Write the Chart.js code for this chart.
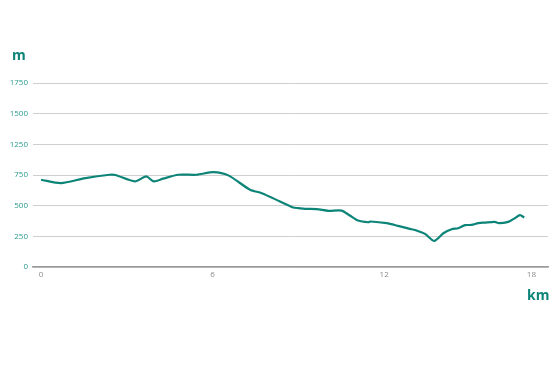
<!DOCTYPE html>
<html>
<head>
<meta charset="utf-8">
<script src="https://cdn.jsdelivr.net/npm/chart.js@4"></script>
<style>
  body { margin: 0; background: #fff; }
  #wrap { position: relative; width: 554px; height: 369px; }
  .eje { position: absolute; font-family: "Open Sans", sans-serif; font-weight: 700; font-size: 14px; color: #0c8478; }
  #tituloY { left: 12px; top: 45px; }
  #tituloX { left: 527px; top: 285px; }
</style>
</head>
<body>
<div id="wrap">
  <canvas id="perfil" width="554" height="369"></canvas>
  <div class="eje" id="tituloY">m</div>
  <div class="eje" id="tituloX">km</div>
</div>
<script>
// perfil de elevacion de la ruta
const distanciaKm = [0, 0.7, 1.5, 2.4, 2.6, 3.28, 3.68, 3.94, 4.27, 4.8, 5.44, 6.03, 6.55, 7.31, 7.72, 8.36, 8.82, 9.0, 9.23, 9.64, 10.05, 10.51, 10.8, 11.09, 11.44, 11.53, 12.09, 12.49, 12.9, 13.08, 13.43, 13.75, 14.07, 14.36, 14.59, 14.83, 15.06, 15.29, 15.52, 15.87, 16.01, 16.34, 16.57, 16.75, 16.9]
const elevacionM = [711, 684, 722, 752, 750, 698, 738, 698, 720, 752, 752, 774, 747, 630, 602, 534, 485, 480, 474, 472, 458, 460, 420, 379, 365, 371, 357, 335, 311, 302, 270, 213, 275, 308, 316, 341, 343, 357, 362, 368, 357, 368, 398, 423, 403]

// etiquetas de los ejes tal como salen en el grafico
const etiquetasY = ['0', '250', '500', '750', '1250', '1500', '1750']
const valoresX = [0, 6, 12, 17.15]
const etiquetasX = ['0', '6', '12', '18']

const verde = '#0c8478'

const puntos = distanciaKm.map((d, i) => ({ x: d, y: elevacionM[i] }))

const config = {
    type: 'line',
    data: {
        datasets: [{
            data: puntos,
            borderColor: verde,
            borderWidth: 2.2,
            pointRadius: 0,
            tension: 0.25,
            fill: false
        }]
    },
    options: {
        responsive: false,
        animation: false,
        layout: {
            padding: { top: 83, right: 6, bottom: 90, left: 0 }
        },
        plugins: {
            legend: { display: false },
            tooltip: { enabled: false }
        },
        scales: {
            x: {
                type: 'linear',
                min: -0.28,
                max: 17.73,
                afterBuildTicks: (scale) => {
                    scale.ticks = valoresX.map(v => ({ value: v }))
                },
                afterFit: (scale) => { scale.height = 12 },
                grid: { display: false, drawTicks: false },
                border: { display: true, color: '#9a9a9a', width: 1.5 },
                ticks: {
                    autoSkip: false,
                    maxRotation: 0,
                    padding: 3,
                    color: '#8a8a8a',
                    font: { family: 'Open Sans', size: 8 },
                    callback: (value, index) => etiquetasX[index]
                }
            },
            y: {
                min: 0,
                max: 1500,
                afterFit: (scale) => { scale.width = 33 },
                grid: { color: '#cfcfcf', lineWidth: 1, drawTicks: false },
                border: { display: false },
                ticks: {
                    stepSize: 250,
                    padding: 5,
                    color: '#2a9a8e',
                    font: { family: 'Open Sans', size: 8 },
                    callback: (value, index) => etiquetasY[index]
                }
            }
        }
    }
}

var grafico = new Chart(document.getElementById('perfil'), config)
</script>
</body>
</html>
